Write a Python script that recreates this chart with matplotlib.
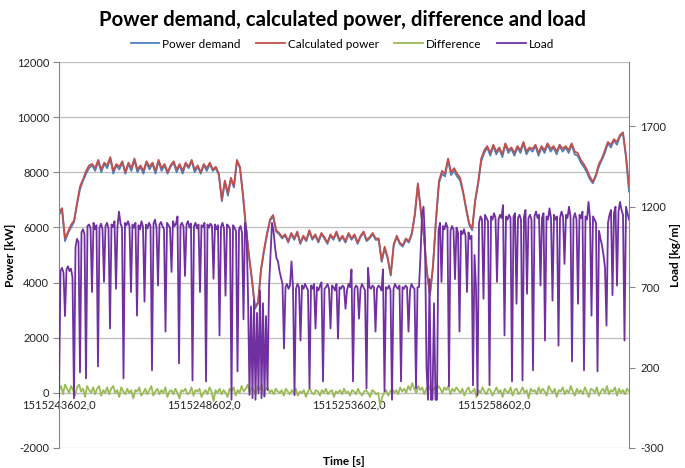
import numpy as np
import matplotlib
matplotlib.use("Agg")
import matplotlib.pyplot as plt
from matplotlib.ticker import FixedLocator, FuncFormatter

plt.rcParams['font.family'] = ['Lato', 'DejaVu Sans']
plt.rcParams['axes.unicode_minus'] = False

# ---------------- data ----------------
t_start = 1515243602
t_span = 19655
x_tick_times = [1515243602, 1515248602, 1515253602, 1515258602]

calculated_power = [
    6550, 6700, 5600, 5850, 6100, 6250, 6900, 7500, 7750, 8050, 8250,
    8300, 8150, 8450, 8100, 8350, 8250, 8550, 8050, 8300, 8200,
    8400, 8000, 8350, 8150, 8500, 8100, 8250, 8050, 8400, 8200,
    8350, 8050, 8450, 8150, 8300, 8000, 8250, 8400, 8100, 8300,
    8050, 8350, 8200, 8450, 8100, 8250, 8000, 8300, 8150, 8350,
    8100, 8200, 7950,
    7000, 7700, 7250, 7800, 7500, 8450, 8200,
    7200, 6000, 5000, 4100, 3100, 3300, 4500, 5200, 5800, 6300, 6450, 5900, 5800, 5650,
    5750, 5500, 5800, 5600, 5850, 5450, 5700, 5550, 5900, 5600,
    5750, 5500, 5800, 5650, 5450, 5750, 5600, 5850, 5550, 5700,
    5500, 5800, 5600, 5750, 5450, 5700, 5850, 5550, 5650, 5800, 5600,
    5600, 4800, 5300, 4900, 4300, 5400,
    5700, 5450, 5350, 5600, 5500, 5800, 6500, 7600, 6600, 5700, 4400, 3600, 4600, 6300, 7700,
    8050, 7950, 8500, 8000, 8150, 7950,
    7800, 7300, 6700, 6150, 5950, 7000, 7650, 8500,
    8800, 8950, 8700, 9000, 8750, 8900, 8650, 9050, 8800, 8900,
    8700, 8950, 8800, 9100, 8750, 8900, 8850, 9000, 8700, 8950,
    8800, 9050, 8850, 8950, 8750, 9000, 8850, 8950, 8800, 9050,
    8750, 8700, 8450, 8300,
    8100, 7850, 7650, 7900, 8300, 8500, 8800, 9100, 9000, 9200, 9100, 9350, 9450, 8600, 7500,
]

power_demand = [
    6450, 6650, 5500, 5800, 6000, 6200, 6850, 7400, 7700, 7950, 8150,
    8250, 8050, 8400, 8000, 8300, 8150, 8500, 7950, 8250, 8100,
    8350, 7950, 8300, 8050, 8450, 8000, 8200, 7950, 8350, 8100,
    8300, 7950, 8400, 8050, 8250, 7950, 8200, 8350, 8000, 8250,
    7950, 8300, 8150, 8400, 8000, 8200, 7950, 8250, 8050, 8300,
    8050, 8150, 7900,
    6950, 7650, 7150, 7750, 7450, 8400, 8150,
    7150, 5950, 4950, 4050, 3050, 3250, 4450, 5150, 5750, 6250, 6400, 5850, 5750, 5600,
    5700, 5450, 5750, 5550, 5800, 5400, 5650, 5500, 5850, 5550,
    5700, 5450, 5750, 5600, 5400, 5700, 5550, 5800, 5500, 5650,
    5450, 5750, 5550, 5700, 5400, 5650, 5800, 5500, 5600, 5750, 5550,
    5550, 4750, 5250, 4850, 4250, 5350,
    5650, 5400, 5300, 5550, 5450, 5750, 6450, 7550, 6550, 5650, 4350, 3550, 4550, 6250, 7600,
    7950, 7850, 8450, 7900, 8050, 7850,
    7700, 7250, 6650, 6100, 5900, 6950, 7600, 8400,
    8700, 8900, 8600, 8950, 8650, 8850, 8550, 9000, 8700, 8850,
    8600, 8900, 8700, 9050, 8650, 8850, 8750, 8950, 8600, 8900,
    8700, 9000, 8750, 8900, 8650, 8950, 8750, 8900, 8700, 9000,
    8650, 8600, 8350, 8200,
    8000, 7750, 7600, 7850, 8200, 8450, 8700, 9050, 8900, 9150, 9000, 9300, 9400, 8550, 7300,
]

difference = [
    100, 250, -50, 300, 150, 0, 250, 100, -100, 200, 300, 50, 150, -150, 250, 100, 0, 200, -50, 150,
    250, -100, 100, 0, 200, -50, 150, 250, 0, 100, -150, 200, 50, -50, 150, 0, 100, -200, 100, 50,
    200, -100, 0, 150, -50, 100, 250, -100, 50, 150, -50, 100, 0, 200, -150, 50, 100, -50, 150, 0,
    -200, 100, 50, 150, -50, 0, 200, -100, 100, 50, 150, -150, 0, 100, -50, 200, 50, -300, 100, 0,
    150, -50, 100, 0, -150, 150, 50, 200, -100, 100, 0, 250, 50, 150, 300, 0, 200, 100, -50, 250,
    100, 300, -100, 150, 200, 0, 100, -50, 150, 50, 0, 100, -100, 150, 50, -50, 100, 0, 150, -100,
    50, 0, 100, -150, 50, 150, 0, -50, 100, 50, -100, 100, 0, 150, -50, 50, 100, -150, 50, 0,
    100, -50, 150, 0, 50, -100, 100, 50, -50, 150, 0, -100, 50, 100, 0, -150, 100, 50, -50, 0,
    -450, -150, 0, 100, -100, 50, 150, 0, 100, -50, 200, 50, 150, 0, 250, 100, 350, 150, 0, 250,
    100, 200, -50, 150, 300, 100, 0, 200, 50, 250, 150, 0, 200, 100, 250, -50, 150, 50, 200, 100,
    0, 150, -100, 100, 200, 0, 50, 150, -150, 100, 0, 200, 50, -50, 150, 100, -100, 50, 200, 0,
    100, -150, 150, 50, 0, 200, -100, 100, 150, -50, 50, 200, 0, 100, -200, 150, 50, 100, -50, 200,
    0, 150, 50, -100, 250, 100, 0, 150, -150, 100, 50, 200, -50, 100, 0, 250, 50, -100, 150, 0,
    100, -50, 200, 50, -150, 150, 100, 0, 200, -100, 50, 150, 0, 250, -50, 100, 50, 200, -100, 150,
    0, 100, -50, 150, 50,
]

load = [
    20, 800, 820, 790, 520, 810, 830, 800, 815, 760,
    10, 950, 1000, 980, 170, 1040, 1060, 1030, 133, 1080,
    1090, 1070, 670, 1100, 1060, 1085, 207, 1070, 1095, 1060,
    733, 1080, 1100, 1065, 443, 1090, 1075, 1110, 690, 1080,
    1170, 1095, 1070, 133, 1100, 1085, 1110, 1080, 670, 1090,
    1070, 1100, 523, 1085, 1060, 1110, 1075, 610, 1090, 1065,
    1100, 1080, 183, 1095, 1120, 1070, 710, 1090, 1105, 1080,
    1060, 424, 1100, 1085, 1070, 795, 1110, 1080, 1095, 1140,
    226, 1085, 1100, 1075, 770, 1090, 1110, 1070, 1095, 120,
    1080, 1100, 1065, 1090, 670, 1085, 1075, 1100, 114, 1090,
    1070, 1095, 1080, 752, 1090, 1060, 1085, 400, 1075, 1100,
    1065, 647, 1090, 1080, 1060, 0, 1085, 1070, 1050, 176,
    1060, 1080, 1040, 500, 1100, 1050, 650, 30, 580, 10,
    620, 0, 540, 40, 680, 10, 600, 20, 520, 60,
    700, 900, 1100, 1050, 950, 880, 860, 800, 760, 720,
    319, 700, 720, 690, 710, 860, 700, 28, 690, 720,
    700, 368, 710, 690, 720, 700, 680, 71, 710, 690,
    720, 443, 700, 680, 710, 730, 114, 690, 700, 720,
    690, 443, 710, 700, 680, 720, 380, 700, 690, 710,
    700, 566, 680, 720, 700, 810, 114, 690, 710, 700,
    504, 690, 720, 700, 680, 71, 820, 700, 690, 710,
    700, 424, 690, 710, 700, 680, 810, 53, 700, 690,
    710, 680, 0, 690, 720, 700, 690, 710, 114, 700,
    690, 710, 700, 424, 680, 720, 700, 690, 71, 700,
    700, 900, 1150, 1200, 1000, 200, 0, 750, 0, 0,
    600, 0, 0, 1050, 1100, 733, 1080, 1060, 1100, 1070,
    84, 1050, 1080, 1060, 750, 1070, 1040, 424, 1050, 1030,
    1060, 1020, 670, 1040, 1000, 1020, 90, 900, 700, 28,
    1100, 1140, 1120, 628, 1150, 1130, 1110, 90, 1140, 1120,
    1160, 1130, 733, 1120, 1150, 1130, 1210, 400, 1140, 1120,
    1150, 1130, 114, 1140, 1160, 597, 1130, 1150, 1120, 120,
    1140, 1180, 659, 1130, 1150, 1120, 183, 1140, 1170, 1130,
    1150, 710, 1130, 1160, 368, 1140, 1120, 1190, 1130, 616,
    1150, 1120, 1140, 337, 1130, 1170, 1140, 845, 1150, 1130,
    1200, 1140, 238, 1130, 1160, 1120, 597, 1150, 1130, 1170,
    183, 1140, 1120, 1230, 1130, 523, 1140, 1120, 1100, 176,
    1050, 1000, 960, 900, 820, 461, 1100, 1150, 1180, 650,
    1160, 1200, 710, 1170, 1230, 1180, 1150, 368, 1200, 1160,
    1120,
]

# ---------------- styling ----------------
c_demand = '#4F81BD'
c_calc = '#C0504D'
c_diff = '#9BBB59'
c_load = '#7030A0'
grid_c = '#BFBFBF'
axis_c = '#868686'
txt_c = '#222222'

fig = plt.figure(figsize=(6.85, 4.68), dpi=100)
ax = fig.add_axes([59/685, 1-448/468, 570/685, 386/468])

t_power = t_start + np.linspace(0, t_span, len(calculated_power))
t_diff = t_start + np.linspace(0, t_span, len(difference))
t_load = t_start + np.linspace(0, t_span, len(load))

l1, = ax.plot(t_power, power_demand, color=c_demand, lw=1.3, label='Power demand')
l2, = ax.plot(t_power, calculated_power, color=c_calc, lw=1.3, label='Calculated power')
l3, = ax.plot(t_diff, difference, color=c_diff, lw=1.3, label='Difference')

ax.set_xlim(t_start, t_start + t_span)
ax.set_ylim(-2000, 12000)
ax.yaxis.set_major_locator(FixedLocator(list(range(-2000, 12001, 2000))))
ax.grid(axis='y', color=grid_c, lw=0.9)
ax.set_axisbelow(True)

for s in ['top', 'right']:
    ax.spines[s].set_visible(False)
ax.spines['left'].set_color(axis_c)
ax.spines['bottom'].set_position(('data', 0))
ax.spines['bottom'].set_color(axis_c)
ax.spines['bottom'].set_zorder(0.5)

ax.xaxis.set_major_locator(FixedLocator(x_tick_times))
ax.xaxis.set_major_formatter(FuncFormatter(lambda v, p: f"{int(round(v))},0"))
ax.tick_params(axis='x', length=0, pad=5, labelsize=8, colors=txt_c)
ax.tick_params(axis='y', length=4, color=axis_c, labelsize=8, labelcolor=txt_c, pad=3)

ax.set_ylabel('Power [kW]', fontsize=8.5, fontweight='bold')
ax.yaxis.set_label_coords(-0.076, 0.5)
ax.set_xlabel('Time [s]', fontsize=8.5, fontweight='bold')
ax.xaxis.set_label_coords(0.5, -0.02)

ax2 = ax.twinx()
l4, = ax2.plot(t_load, load, color=c_load, lw=1.3, label='Load')
ax2.set_ylim(-300, 2100)
ax2.yaxis.set_major_locator(FixedLocator([-300, 200, 700, 1200, 1700]))
for s in ['top', 'left', 'bottom']:
    ax2.spines[s].set_visible(False)
ax2.spines['right'].set_color(axis_c)
ax2.tick_params(axis='y', length=4, color=axis_c, labelsize=8, labelcolor=txt_c, pad=4)
ax2.set_ylabel('Load [kg/m]', fontsize=8.5, fontweight='bold')
ax2.yaxis.set_label_coords(1.072, 0.5)

fig.suptitle('Power demand, calculated power, difference and load',
             fontsize=14.7, fontweight='bold', y=1-20/468, va='center')

fig.legend(handles=[l1, l2, l3, l4], loc='center', ncol=4,
           bbox_to_anchor=(0.5, 1-44/468), frameon=False, fontsize=8.5,
           handlelength=2.4, columnspacing=1.3, handletextpad=0.3)

fig.savefig('out.png', dpi=100)
